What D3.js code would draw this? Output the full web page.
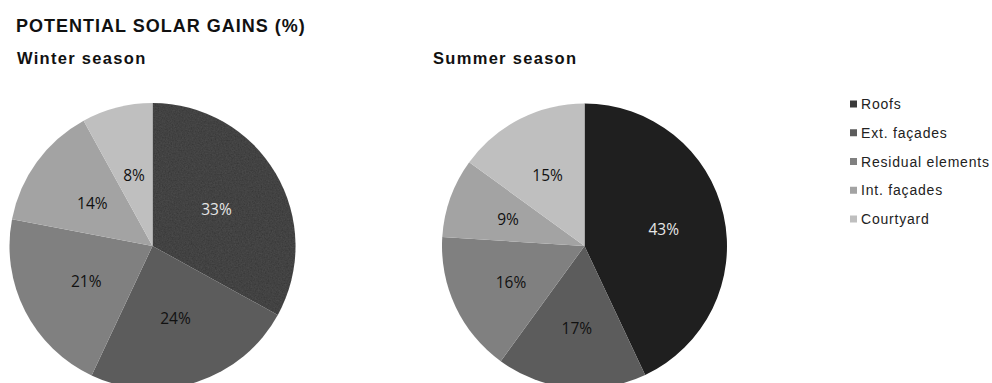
<!DOCTYPE html>
<html>
<head>
<meta charset="utf-8">
<script src="https://cdn.jsdelivr.net/npm/d3@7"></script>
<style>
  html, body { margin: 0; padding: 0; background: #fff; }
  svg { display: block; }
</style>
</head>
<body>
<svg id="chart" width="992" height="383"></svg>
<script>
// Categories of building elements receiving solar gains
const categories = ["Roofs", "Ext. façades", "Residual elements", "Int. façades", "Courtyard"];
// Share of potential solar gains per season (%)
const winterValues = [33, 24, 21, 14, 8];
const summerValues = [43, 17, 16, 9, 15];
const seasonTitles = ["Winter season", "Summer season"];
const chartTitle = "POTENTIAL SOLAR GAINS (%)";

const winterColors = ["#3a3a3a", "#5c5c5c", "#808080", "#a3a3a3", "#bfbfbf"];
const summerColors = ["#1f1f1f", "#5c5c5c", "#808080", "#a3a3a3", "#bfbfbf"];
const legendColors = ["#3a3a3a", "#5c5c5c", "#808080", "#a3a3a3", "#bfbfbf"];

const svg = d3.select("#chart");
const sans = "'Liberation Sans', Arial, sans-serif";

// Subtle grain on the darker winter slice
const defs = svg.append("defs");
const grain = defs.append("filter").attr("id", "grain").attr("x", 0).attr("y", 0).attr("width", 1).attr("height", 1);
grain.append("feTurbulence").attr("type", "fractalNoise").attr("baseFrequency", 0.7).attr("numOctaves", 2).attr("seed", 3).attr("result", "noise");
grain.append("feColorMatrix").attr("in", "noise").attr("type", "matrix")
  .attr("values", "0 0 0 0 0.2  0 0 0 0 0.2  0 0 0 0 0.2  0 0 0 0.25 -0.04").attr("result", "speck");
grain.append("feComposite").attr("in", "speck").attr("in2", "SourceGraphic").attr("operator", "in").attr("result", "clipped");
grain.append("feMerge").call(m => { m.append("feMergeNode").attr("in", "SourceGraphic"); m.append("feMergeNode").attr("in", "clipped"); });

svg.append("text")
  .attr("x", 16).attr("y", 31.5)
  .attr("font-family", sans).attr("letter-spacing", 1)
  .attr("font-weight", "bold").attr("font-size", 18).attr("fill", "#111")
  .text(chartTitle);

const pies = [
  { title: seasonTitles[0], values: winterValues, colors: winterColors, cx: 152.5, cy: 246, r: 143, tx: 17, grain: true, labelK: 0.52 },
  { title: seasonTitles[1], values: summerValues, colors: summerColors, cx: 584.5, cy: 246, r: 142.5, tx: 433, grain: false, labelK: 0.57 }
];

const pie = d3.pie().sort(null).value(d => d);

pies.forEach(p => {
  svg.append("text")
    .attr("x", p.tx).attr("y", 63.5)
    .attr("font-family", sans).attr("letter-spacing", 1.3)
    .attr("font-weight", "bold").attr("font-size", 16.5).attr("fill", "#111")
    .text(p.title);

  const g = svg.append("g").attr("transform", `translate(${p.cx},${p.cy})`);
  const arc = d3.arc().innerRadius(0).outerRadius(p.r);
  const labelArc = d3.arc().innerRadius(p.r * p.labelK).outerRadius(p.r * p.labelK);
  const arcs = pie(p.values);

  g.selectAll("path.slice").data(arcs).join("path")
    .attr("class", "slice")
    .attr("d", arc)
    .attr("fill", (d, i) => p.colors[i])
    .attr("filter", (d, i) => (p.grain && i === 0) ? "url(#grain)" : null);

  g.selectAll("text.lbl").data(arcs).join("text")
    .attr("class", "lbl")
    .attr("transform", d => `translate(${labelArc.centroid(d)})`)
    .attr("text-anchor", "middle").attr("dy", "0.45em")
    .attr("font-family", "'Open Sans', sans-serif").attr("font-size", 15.5)
    .attr("fill", (d, i) => i === 0 ? "#e6e6e6" : "#111")
    .text(d => d.data + "%");
});

// Legend
const legend = svg.append("g");
const ly = d3.scalePoint().domain(categories).range([104, 219]);
categories.forEach((c, i) => {
  const row = legend.append("g").attr("transform", `translate(850,${ly(c)})`);
  row.append("rect").attr("x", 0).attr("y", -3.5).attr("width", 7).attr("height", 7).attr("fill", legendColors[i]);
  row.append("text").attr("x", 11).attr("dy", "0.36em")
    .attr("font-family", sans).attr("font-size", 14).attr("letter-spacing", 0.8).attr("fill", "#222")
    .text(c);
});
</script>
</body>
</html>
